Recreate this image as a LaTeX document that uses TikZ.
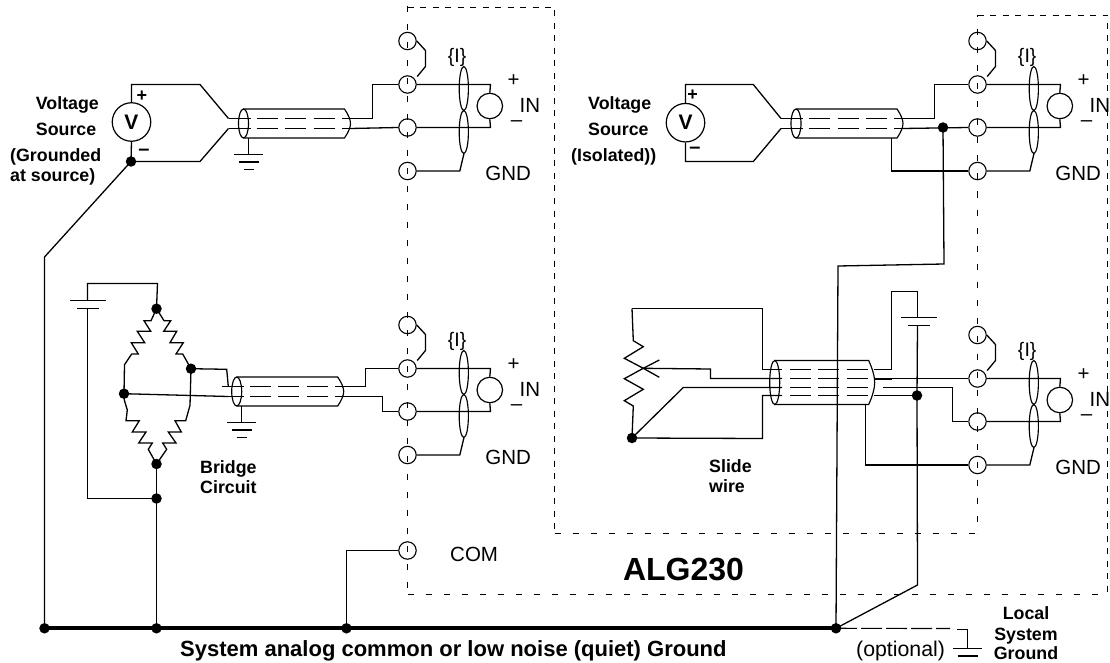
\documentclass[tikz,border=0pt]{standalone}
\usepackage{fontspec}
\setmainfont{Liberation Sans}
\newcommand{\fsz}[1]{\fontsize{#1}{#1}\selectfont}
\tikzset{
  x=1pt,y=-1pt,
  wire/.style={draw=black,line width=1.3pt,line join=miter},
  thin wire/.style={draw=black,line width=1.15pt},
  bus/.style={draw=black,line width=4.2pt},
  boxline/.style={draw=black,line width=1.1pt,dash pattern=on 6pt off 6.5pt},
  boxwide/.style={draw=black,line width=1.1pt,dash pattern=on 6pt off 12pt},
  innerdash/.style={draw=black,line width=1.1pt,dash pattern=on 21pt off 7.3pt},
  dotnode/.style={circle,fill=black,draw=none,minimum size=10.5pt,inner sep=0pt},
  term/.style={circle,draw=black,line width=1.1pt,minimum size=17.4pt,inner sep=0pt},
  meter/.style={circle,draw=black,line width=1.2pt,minimum size=25.5pt,inner sep=0pt},
  src/.style={circle,draw=black,line width=1.2pt,minimum size=38.5pt,inner sep=0pt,font=\bfseries\fsz{21}},
  reg/.style={inner sep=0pt,font=\fsz{20.5}},
  lab/.style={inner sep=0pt,font=\bfseries\fsz{17.8},anchor=base west},
  pics/termset/.style={code={
    \node[term] (t1) at (0,0) {};
    \node[term] (t2) at (0,43.5) {};
    \node[term] (t3) at (0,86.5) {};
    \node[term] (t4) at (0,130) {};
    \node[meter] (m) at (82.3,65) {};
    \draw[wire] (t1.east) -- (18,9.5) -- (18,25.5) -- (9.7,35.5);
    \draw[wire] (t2.east) -- (83,43.5) -- (m.north);
    \draw[wire] (t3.east) -- (83,86.5) -- (m.south);
    \draw[thin wire] (56.3,47.5) ellipse [x radius=4.6,y radius=22];
    \draw[thin wire] (56.3,91) ellipse [x radius=4.6,y radius=21.5];
    \draw[wire] (t4.east) -- (52.3,130) -- (56.5,112.5);
    \node[reg,font=\fsz{19.5}] (lI) at (49.7,16.5) {\{I\}};
    \node[reg] (lp) at (106,39.5) {+};
    \node[reg] (lm) at (109,82.5) {–};
    \node[reg] (lIN) at (122.3,64.5) {IN};
    \node[reg] (lG) at (100.7,132.5) {GND};
  }},
  pics/shield/.style 2 args={code={
    \draw[thin wire] (0,0) ellipse [x radius=5,y radius=#2];
    \draw[thin wire] (0,-#2) -- (#1,-#2) .. controls (#1+4,-#2*0.6) and (#1+6,-#2*0.25) .. (#1+6,0)
       .. controls (#1+6,#2*0.25) and (#1+4,#2*0.6) .. (#1,#2) -- (0,#2);
  }},
  pics/cable/.style={code={
    \pic {shield={101}{14.5}};
    \coordinate (a) at (-15,-5);
    \coordinate (b) at (-15,5);
    \coordinate (c) at (107,-5);
    \coordinate (d) at (107,5);
    \draw[thin wire] (a) -- (7,-5);
    \draw[thin wire] (b) -- (7,5);
    \draw[innerdash] (13.4,-5) -- (107,-5);
    \draw[innerdash] (13.4,5) -- (107,5);
  }},
  pics/gnd/.style={code={
    \draw[wire] (-14.3,0) -- (14.3,0);
    \draw[wire] (-10,7.5) -- (10,7.5);
    \draw[wire] (-5,15) -- (5,15);
  }},
}
\begin{document}
\begin{tikzpicture}
\useasboundingbox (0,0) rectangle (1110,663);
% enclosures
\coordinate (bTL) at (407.5,6);
\coordinate (bTC) at (407.5,7.5);
\coordinate (bTR) at (554.5,7.5);
\coordinate (bMR) at (554.5,533.5);
\coordinate (bMM) at (977.5,533.5);
\coordinate (bUL) at (977.5,15.5);
\coordinate (bUR) at (1107.5,15.5);
\coordinate (bBR) at (1107.5,594.5);
\coordinate (bBL) at (407.5,594.5);
\draw[boxwide] (bTL) -- (bBL);
\draw[boxwide] (bBL) -- (bBR);
\draw[boxline] (bTC) -- (bTR) -- (bMR);
\draw[boxwide] (bMR) -- (bMM);
\draw[boxwide,dash phase=4pt] (bUL) -- (bMM);
\draw[boxline] (bUL) -- (bUR) -- (bBR);
% terminal groups
\pic (A) at (407.5,41) {termset};
\pic (B) at (407.5,325) {termset};
\pic (C) at (977.5,41) {termset};
\pic (D) at (977.5,335) {termset};
\node[term] (com) at (407.5,550.5) {};
% bus
\node[dotnode] (b1) at (44.5,628.3) {};
\node[dotnode] (b2) at (156.5,628.3) {};
\node[dotnode] (b3) at (346.5,628.3) {};
\node[dotnode] (b4) at (836,628.3) {};
\draw[bus] (b1.center) -- (b4.center);
\draw[wire] (com.west) -- (346.5,550.5) -- (b3.center);
% source 1
\node[src] (V1) at (131.5,122) {V};
\node[dotnode] (d1) at (131,161.5) {};
\pic (K1) at (243.5,123.5) {cable};
\draw[wire] (V1.north) -- (131.5,84.5) -- (200,84.5) -- (K1a);
\draw[wire] (V1.south) -- (d1.center) -- (200,161.5) -- (K1b);
\draw[wire] (d1.center) -- (44.5,257) -- (b1.center);
\node[inner sep=0pt,font=\bfseries\fsz{18}] (p1) at (142,96) {+};
\node[inner sep=0pt,font=\bfseries\fsz{20}] (n1) at (144,152) {–};
\pic (G1) at (248.5,154.5) {gnd};
\draw[wire] (248.5,138) -- (248.5,154.5);
\draw[wire] (K1c) -- (372.5,118.5) -- (372.5,84.5) -- (At2.west);
\draw[wire] (K1d) -- (At3.west);
\node[lab] (t1a) at (35.7,110) {Voltage};
\node[lab] (t1b) at (35.7,135.7) {Source};
\node[lab] (t1c) at (10,162) {(Grounded};
\node[lab] (t1d) at (10,182) {at source)};
% bridge
\node[dotnode] (bt) at (156.5,308.7) {};
\node[dotnode] (bl) at (124,393.7) {};
\node[dotnode] (br) at (191,368.7) {};
\node[dotnode] (bb) at (156.5,464) {};
\node[dotnode] (bj) at (156.5,498.5) {};
\pic (K2) at (236.7,391.5) {cable};
\draw[wire] (87.5,300.5) -- (87.5,283.5) -- (157.5,283.5) -- (bt.center);
\draw[wire] (70,300.5) -- (106,300.5);
\draw[wire] (77.3,308.5) -- (99,308.5);
\draw[wire] (87.5,308.5) -- (87.5,498.5) -- (bj.center);
\draw[wire] (bb.center) -- (bj.center) -- (b2.center);
\draw[wire] (bt.center) -- (151,320.7) -- (144,320.7) -- (150.7,331.3) -- (137.3,331.3) -- (144.7,342.7) -- (131.3,342.7) -- (138.3,354) -- (131.7,354) -- (124.5,364.7) -- (bl.center);
\draw[wire] (bt.center) -- (164,320.7) -- (170.7,320.7) -- (163.7,331.3) -- (176.7,331.3) -- (170,342.7) -- (183.3,342.7) -- (176,354) -- (182.7,354) -- (br.center);
\draw[wire] (br.center) -- (190,405.3) -- (185.7,420.7) -- (175,420.7) -- (181.3,432) -- (168.3,432) -- (176,443) -- (162.7,443) -- (166.7,449.3) -- (bb.center);
\draw[wire] (bl.center) -- (124.3,400) -- (127.3,410) -- (126,420.7) -- (139.3,420.7) -- (132.3,432) -- (146,432) -- (138.7,443) -- (152.3,443) -- (148.3,449.3) -- (bb.center);
\draw[wire] (br.center) -- (226.7,369.3) -- (228.3,386.5);
\draw[wire] (bl.center) -- (228.3,396.5);
\pic (G2) at (241.5,422.5) {gnd};
\draw[wire] (241.5,406) -- (241.5,422.5);
\draw[wire] (K2c) -- (365.5,386.5) -- (365.5,368.5) -- (Bt2.west);
\draw[wire] (K2d) -- (382.5,396.5) -- (382.5,411.5) -- (Bt3.west);
\node[lab] (t2a) at (200,473) {Bridge};
\node[lab] (t2b) at (200,493) {Circuit};
% source 2
\node[src] (V2) at (685.5,122.7) {V};
\pic (K3) at (796,123.5) {cable};
\draw[wire] (V2.north) -- (685.5,84.5) -- (753.3,84.5) -- (K3a);
\draw[wire] (V2.south) -- (685.5,161.5) -- (753.3,161.5) -- (K3b);
\node[inner sep=0pt,font=\bfseries\fsz{18}] (p2) at (692.7,95) {+};
\node[inner sep=0pt,font=\bfseries\fsz{20}] (n2) at (695,150) {–};
\node[dotnode] (d3) at (943,127.5) {};
\draw[wire] (K3c) -- (934.5,118.5) -- (934.5,84.5) -- (Ct2.west);
\draw[wire] (K3d) -- (Ct3.west);
\draw[wire] (891.5,138) -- (891.5,171) -- (Ct4.west);
\node[lab] (t3a) at (588,110) {Voltage};
\node[lab] (t3b) at (588,136) {Source};
\node[lab] (t3c) at (571,162) {(Isolated))};
% riser to bus
\draw[wire] (d3.center) -- (944,264) -- (838,266) -- (b4.center);
% slide wire
\node[dotnode] (sd) at (632,438) {};
\pic at (774.7,382.5) {shield={94}{22}};
\coordinate (q1) at (782,369.5);
\coordinate (q2) at (782,378.5);
\coordinate (q3) at (782,387.5);
\coordinate (q4) at (782,395.5);
\draw[wire] (632,308.5) -- (633.3,340.7) -- (643.3,346.7) -- (624.3,358.3) -- (643.3,368.3) -- (624.3,378.7) -- (643.3,389.3) -- (624.3,400.7) -- (633.3,406) -- (sd.center);
\draw[wire] (632,308.5) -- (762.5,308.5) -- (762.5,369.5) -- (q1);
\draw[wire] (sd.center) -- (762.5,438.5) -- (762.5,395.5) -- (q4);
\draw[wire] (659.3,360) -- (643.3,368.3) -- (659.3,377.3);
\draw[wire] (643.3,368.3) -- (710.5,369) -- (710.5,378.5) -- (q2);
\draw[wire] (sd.center) -- (683.3,387.5) -- (q3);
\foreach \yy in {369.5,378.5,387.5,395.5} \draw[innerdash] (790,\yy) -- (868.7,\yy);
\coordinate (r1) at (874,369.5);
\coordinate (r2) at (874,378.5);
\coordinate (r3) at (882.7,387.5);
\coordinate (r4) at (874,395.5);
\node[dotnode] (d4) at (917,395.5) {};
\draw[wire] (r1) -- (891.5,369.5) -- (891.5,291.5) -- (917.5,291.5) -- (917.5,317.5);
\draw[wire] (901,317.5) -- (936.7,317.5);
\draw[wire] (908,325.5) -- (930,325.5);
\draw[wire] (917.5,325.5) -- (d4.center);
\draw[wire] (d4.center) -- (917.5,585) -- (b4.center);
\draw[wire] (r2) -- (Dt2.west);
\draw[line width=2pt] (r2) -- (892,378.5);
\draw[wire] (r3) -- (952.5,387.5) -- (952.5,421.5) -- (Dt3.west);
\draw[wire] (r4) -- (d4.center);
\draw[wire] (865.5,404.5) -- (865.5,465) -- (Dt4.west);
\node[lab] (t4a) at (709,472.7) {Slide};
\node[lab] (t4b) at (709,492.7) {wire};
% labels
\node[reg,anchor=base west] (lcom) at (450,561) {COM};
\node[inner sep=0pt,anchor=base,font=\bfseries\fsz{32}] (lalg) at (683.5,580) {ALG230};
\node[lab,font=\bfseries\fsz{22}] (lsys) at (180,656) {System analog common or low noise (quiet) Ground};
\node[reg,anchor=base west,font=\fsz{21.3}] (lopt) at (856,656.5) {(optional)};
\node[lab,anchor=base] (ll1) at (1026,619) {Local};
\node[lab,anchor=base] (ll2) at (1026,640) {System};
\node[lab,anchor=base] (ll3) at (1026,659) {Ground};
% optional ground
\coordinate (ga) at (967.5,629.5);
\draw[thin wire,dash pattern=on 21pt off 4pt] (b4.center) -- (950,628.5);
\draw[wire] (957,629.5) -- (ga) -- (967.5,648);
\pic (G3) at (967.5,648.5) {gnd};
\end{tikzpicture}
\end{document}
